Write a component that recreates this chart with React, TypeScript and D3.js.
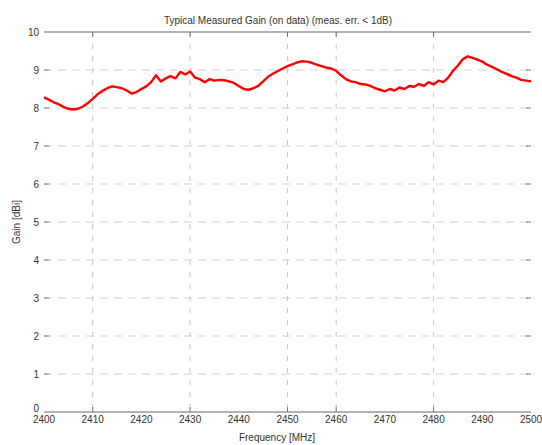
import React from "react";
import * as d3 from "d3";

const TITLE = "Typical Measured Gain (on data) (meas. err. < 1dB)";
const X_LABEL = "Frequency [MHz]";
const Y_LABEL = "Gain [dBi]";

const freqStart = 2400;
const gainValues: number[] = [
  8.28, 8.22, 8.15, 8.1, 8.03, 7.98, 7.96, 7.98, 8.04, 8.13,
  8.24, 8.36, 8.45, 8.52, 8.57, 8.55, 8.52, 8.46, 8.38, 8.42,
  8.5, 8.57, 8.68, 8.86, 8.7, 8.78, 8.84, 8.78, 8.95, 8.88,
  8.96, 8.8, 8.76, 8.68, 8.76, 8.72, 8.74, 8.73, 8.7, 8.66,
  8.58, 8.5, 8.48, 8.52, 8.58, 8.7, 8.82, 8.9, 8.97, 9.04,
  9.1, 9.15, 9.2, 9.23, 9.22, 9.19, 9.14, 9.1, 9.06, 9.04,
  8.98, 8.86, 8.76, 8.7, 8.68, 8.63, 8.62, 8.58, 8.52, 8.48,
  8.44, 8.5, 8.46, 8.54, 8.5, 8.58, 8.56, 8.63, 8.58, 8.68,
  8.62, 8.72, 8.68, 8.8, 8.98, 9.12, 9.28, 9.36, 9.32, 9.27,
  9.22, 9.14, 9.08, 9.02, 8.95, 8.9, 8.84, 8.8, 8.74, 8.72,
  8.7,
];
const xTicks = [2400, 2410, 2420, 2430, 2440, 2450, 2460, 2470, 2480, 2490, 2500];
const xGrid = [2410, 2430, 2450, 2460, 2480];
const yTicks = [0, 1, 2, 3, 4, 5, 6, 7, 8, 9, 10];

export default function App() {
  const W = 542, H = 445;
  const x = d3.scaleLinear().domain([2400, 2500]).range([44, 531]);
  const y = d3.scaleLinear().domain([0, 10]).range([412, 32]);
  const data = gainValues.map((v, i) => ({ f: freqStart + i, v }));
  const line = d3
    .line<{ f: number; v: number }>()
    .x((d) => x(d.f))
    .y((d) => y(d.v))
    .curve(d3.curveLinear);
  const font = "'Liberation Sans', Arial, sans-serif";
  const [x0, x1] = x.range();
  return (
    <svg
      width={W}
      height={H}
      style={{ position: "absolute", left: 0, top: 0, background: "#fff" }}
      fontFamily={font}
    >
      <rect width={W} height={H} fill="#fff" />
      {/* horizontal grid */}
      {yTicks
        .filter((t) => t > 0 && t < 10)
        .map((t) => (
          <g key={"h" + t}>
            <line
              x1={x0}
              x2={x1}
              y1={y(t)}
              y2={y(t)}
              stroke="#d2d2d2"
              strokeWidth={1}
              strokeDasharray="8,6"
            />
            <line x1={x0} x2={x0 + 5} y1={y(t)} y2={y(t)} stroke="#777" />
            <line x1={x1 - 5} x2={x1} y1={y(t)} y2={y(t)} stroke="#777" />
          </g>
        ))}
      {/* vertical grid */}
      {xGrid.map((t) => (
        <g key={"v" + t}>
          <line
            x1={x(t)}
            x2={x(t)}
            y1={y(10)}
            y2={y(0)}
            stroke="#c8c8c8"
            strokeWidth={1}
            strokeDasharray="5,7"
          />
          <line x1={x(t)} x2={x(t)} y1={y(10)} y2={y(10) + 5} stroke="#777" />
          <line x1={x(t)} x2={x(t)} y1={y(0) - 5} y2={y(0)} stroke="#777" />
        </g>
      ))}
      {/* frame top and bottom */}
      <line x1={x0} x2={x1} y1={y(10)} y2={y(10)} stroke="#666" strokeWidth={1.2} />
      <line x1={x0} x2={x1} y1={y(0)} y2={y(0)} stroke="#666" strokeWidth={1.2} />
      {/* curve */}
      <path
        d={line(data) || ""}
        fill="none"
        stroke="#ff0000"
        strokeWidth={2.4}
        strokeLinejoin="round"
      />
      {/* y tick labels */}
      {yTicks.map((t) => (
        <text
          key={"yl" + t}
          x={39}
          y={y(t) + (t === 0 ? -0.5 : 3.5)}
          textAnchor="end"
          fontSize={10}
          fill="#333"
        >
          {t}
        </text>
      ))}
      {/* x tick labels */}
      {xTicks.map((t) => (
        <text
          key={"xl" + t}
          x={x(t)}
          y={423}
          textAnchor="middle"
          fontSize={10}
          fill="#333"
        >
          {t}
        </text>
      ))}
      <text x={277} y={441} textAnchor="middle" fontSize={10} fill="#333">
        {X_LABEL}
      </text>
      <text
        transform={`translate(20,222) rotate(-90)`}
        textAnchor="middle"
        fontSize={10}
        fill="#333"
      >
        {Y_LABEL}
      </text>
      <text x={278} y={24} textAnchor="middle" fontSize={10} fill="#333">
        {TITLE}
      </text>
    </svg>
  );
}
